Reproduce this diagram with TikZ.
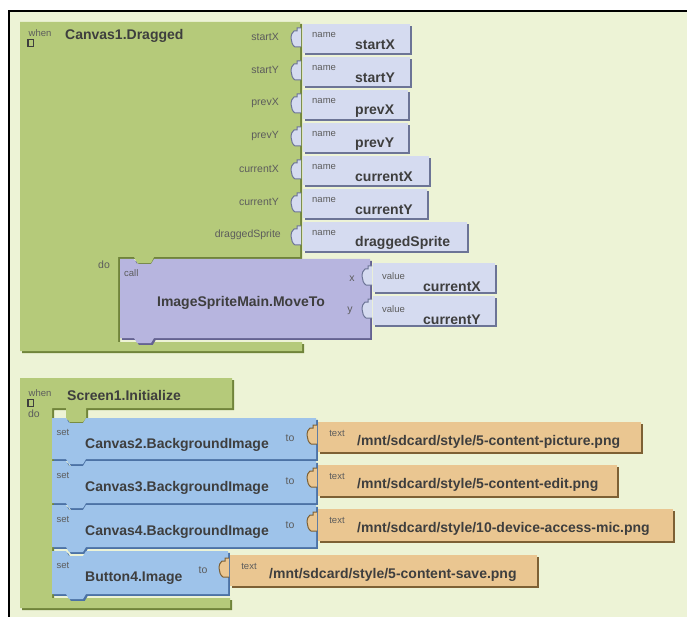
\documentclass[tikz,border=0pt]{standalone}
\usepackage{fontspec}
\setmainfont{Liberation Sans}
\usepackage{xcolor}
\definecolor{Col0}{RGB}{237,243,214}
\definecolor{Col1}{RGB}{181,202,122}
\definecolor{Col1d}{RGB}{112,132,58}
\definecolor{Col2}{RGB}{213,219,240}
\definecolor{Col2d}{RGB}{108,116,150}
\definecolor{Col3}{RGB}{183,181,223}
\definecolor{Col3d}{RGB}{100,98,145}
\definecolor{Col4}{RGB}{158,195,234}
\definecolor{Col4d}{RGB}{76,114,165}
\definecolor{Col5}{RGB}{234,198,145}
\definecolor{Col5d}{RGB}{125,96,52}
\definecolor{ColT}{RGB}{62,62,62}
\definecolor{ColS}{RGB}{92,92,92}
\usepackage{tikz}
\tikzstyle{Frame}=[draw=black,line width=2pt]
\tikzstyle{Title}=[anchor=west,inner sep=0pt,text=ColT,
font=\fontsize{14}{16}\selectfont\bfseries]
\tikzstyle{Value}=[anchor=west,inner sep=0pt,text=ColT,
font=\fontsize{14}{16}\selectfont\bfseries]
\tikzstyle{Small}=[inner sep=0pt,text=ColS,font=\fontsize{9.5}{11}\selectfont]
\tikzstyle{Param}=[anchor=east,inner sep=0pt,text=ColS,
font=\fontsize{10.5}{12}\selectfont]
\tikzstyle{Icon}=[draw=ColT,line width=1.2pt]
% a block with its drop shadow
\newcommand{\Brick}[6]{%
  \fill[#2,shift={(1.8,1.8)}](#3,#4)rectangle(#5,#6);
  \fill[#1](#3,#4)rectangle(#5,#6);}
% a statement block, notch on top and bump below
\newcommand{\Stackable}[6]{%
  \fill[#2,shift={(1.8,1.8)}](#3,#4)--(#3+14,#4)--(#3+17,#4+5)--(#3+31,#4+5)
    --(#3+34,#4)--(#5,#4)--(#5,#6)--(#3+34,#6)--(#3+31,#6+5)--(#3+17,#6+5)
    --(#3+14,#6)--(#3,#6)--cycle;
  \fill[#1](#3,#4)--(#3+14,#4)--(#3+17,#4+5)--(#3+31,#4+5)
    --(#3+34,#4)--(#5,#4)--(#5,#6)--(#3+34,#6)--(#3+31,#6+5)--(#3+17,#6+5)
    --(#3+14,#6)--(#3,#6)--cycle;}
% plug of a value block
\newcommand{\Tab}[4]{%
  \draw[fill=#1,draw=#2,line width=1pt](#3+10,#4-10)--(#3+6,#4-10)
    --(#3+6,#4-7)--(#3+3,#4-7)
    ..controls(#3-1,#4-5)and(#3-1,#4+6)..(#3+4,#4+9)--(#3+10,#4+9);}

\begin{document}
\begin{tikzpicture}[x=1pt,y=-1pt]
  \useasboundingbox(0,0)rectangle(687,617);
  \fill[white](0,0)rectangle(687,617);
  \fill[Col0](8,11)rectangle(687,617);
  \draw[Frame](8.5,617)--(8.5,11.5)--(687,11.5);
  % when Canvas1.Dragged
  \fill[Col1d,shift={(2,2)}](20,22)--(300,22)--(300,257)--(154,257)--(151,263)
    --(137,263)--(134,257)--(118,257)--(118,342)--(302,342)--(302,351)
    --(20,351)--cycle;
  \fill[Col1](20,22)--(300,22)--(300,257)--(154,257)--(151,263)
    --(137,263)--(134,257)--(118,257)--(118,342)--(302,342)--(302,351)
    --(20,351)--cycle;
  \node[Small](w1)at(40,33){when};
  \draw[Icon](28,39.5)rectangle(33.5,46.5);
  \node[Title](t1)at(65,36){Canvas1.Dragged};
  \Tab{Col2}{Col2d}{291}{38}
  \Tab{Col2}{Col2d}{291}{71}
  \Tab{Col2}{Col2d}{291}{104}
  \Tab{Col2}{Col2d}{291}{137}
  \Tab{Col2}{Col2d}{291}{170}
  \Tab{Col2}{Col2d}{291}{203}
  \Tab{Col2}{Col2d}{291}{236}
  \Brick{Col2}{Col2d}{303}{24}{410}{53}
  \Brick{Col2}{Col2d}{303}{57}{410}{86}
  \Brick{Col2}{Col2d}{303}{90}{408}{119}
  \Brick{Col2}{Col2d}{303}{123}{408}{152}
  \Brick{Col2}{Col2d}{303}{156}{429}{185}
  \Brick{Col2}{Col2d}{303}{189}{427}{218}
  \Brick{Col2}{Col2d}{303}{222}{467}{251}
  \node[Param](p1)at(279,37){startX};
  \node[Param](p2)at(279,70){startY};
  \node[Param](p3)at(279,103){prevX};
  \node[Param](p4)at(279,136){prevY};
  \node[Param](p5)at(279,169){currentX};
  \node[Param](p6)at(279,202){currentY};
  \node[Param](p7)at(281,235){draggedSprite};
  \node[Small,anchor=west](k1)at(312,35){name};
  \node[Small,anchor=west](k2)at(312,68){name};
  \node[Small,anchor=west](k3)at(312,101){name};
  \node[Small,anchor=west](k4)at(312,134){name};
  \node[Small,anchor=west](k5)at(312,167){name};
  \node[Small,anchor=west](k6)at(312,200){name};
  \node[Small,anchor=west](k7)at(312,233){name};
  \node[Value](v1)at(355,45){startX};
  \node[Value](v2)at(355,78){startY};
  \node[Value](v3)at(355,111){prevX};
  \node[Value](v4)at(355,144){prevY};
  \node[Value](v5)at(355,177){currentX};
  \node[Value](v6)at(355,210){currentY};
  \node[Value](v7)at(355,243){draggedSprite};
  \node[Param,anchor=center](d1)at(104,265){do};
  % call ImageSpriteMain.MoveTo
  \Stackable{Col3}{Col3d}{120}{259}{370}{338}
  \node[Small,anchor=west](c1)at(124,273){call};
  \node[Title,anchor=center](m1)at(241,303){ImageSpriteMain.MoveTo};
  \node[Param,anchor=center](x1)at(352,279){x};
  \node[Param,anchor=center](y1)at(350,311){y};
  \Tab{Col2}{Col2d}{362}{276}
  \Tab{Col2}{Col2d}{362}{309}
  \Brick{Col2}{Col2d}{373}{263}{495}{292}
  \Brick{Col2}{Col2d}{373}{296}{495}{325}
  \node[Small,anchor=west](a1)at(382,276){value};
  \node[Small,anchor=west](a2)at(382,309){value};
  \node[Value](b1)at(423,287){currentX};
  \node[Value](b2)at(423,320){currentY};
  % when Screen1.Initialize
  \fill[Col1d,shift={(2,2)}](20,378)--(232,378)--(232,408)--(86,408)--(86,418)
    --(83,422)--(69,422)--(66,418)--(66,408)--(52,408)--(52,598)--(230,598)
    --(230,608)--(20,608)--cycle;
  \fill[Col1](20,378)--(232,378)--(232,408)--(86,408)--(86,418)
    --(83,422)--(69,422)--(66,418)--(66,408)--(52,408)--(52,598)--(230,598)
    --(230,608)--(20,608)--cycle;
  \node[Small](w2)at(40,393){when};
  \draw[Icon](28,399.5)rectangle(33.5,406.5);
  \node[Title](t2)at(67,395){Screen1.Initialize};
  \node[Param,anchor=center](d2)at(34,414){do};
  \Stackable{Col4}{Col4d}{52}{418}{316}{459}
  \Stackable{Col4}{Col4d}{52}{461}{316}{503}
  \Stackable{Col4}{Col4d}{52}{505}{316}{547}
  \Stackable{Col4}{Col4d}{52}{551}{228}{594}
  \node[Small](s1)at(63,432){set};
  \node[Small](s2)at(63,475){set};
  \node[Small](s3)at(63,519){set};
  \node[Small](s4)at(63,565){set};
  \node[Value](n1)at(85,445){Canvas2.BackgroundImage};
  \node[Value](n2)at(85,488){Canvas3.BackgroundImage};
  \node[Value](n3)at(85,532){Canvas4.BackgroundImage};
  \node[Value](n4)at(85,578){Button4.Image};
  \node[Param,anchor=center](o1)at(290,438){to};
  \node[Param,anchor=center](o2)at(290,481){to};
  \node[Param,anchor=center](o3)at(290,525){to};
  \node[Param,anchor=center](o4)at(203,570){to};
  \Tab{Col5}{Col5d}{307}{435}
  \Tab{Col5}{Col5d}{307}{478}
  \Tab{Col5}{Col5d}{307}{522}
  \Tab{Col5}{Col5d}{219}{568}
  \Brick{Col5}{Col5d}{318}{422}{641}{452}
  \Brick{Col5}{Col5d}{318}{465}{617}{496}
  \Brick{Col5}{Col5d}{318}{509}{673}{541}
  \Brick{Col5}{Col5d}{230}{555}{537}{586}
  \node[Small](e1)at(337,433){text};
  \node[Small](e2)at(337,476){text};
  \node[Small](e3)at(337,520){text};
  \node[Small](e4)at(249,566){text};
  \node[Value](f1)at(357,442){/mnt/sdcard/style/5-content-picture.png};
  \node[Value](f2)at(357,485){/mnt/sdcard/style/5-content-edit.png};
  \node[Value](f3)at(357,529){/mnt/sdcard/style/10-device-access-mic.png};
  \node[Value](f4)at(269,575){/mnt/sdcard/style/5-content-save.png};
\end{tikzpicture}
\end{document}
